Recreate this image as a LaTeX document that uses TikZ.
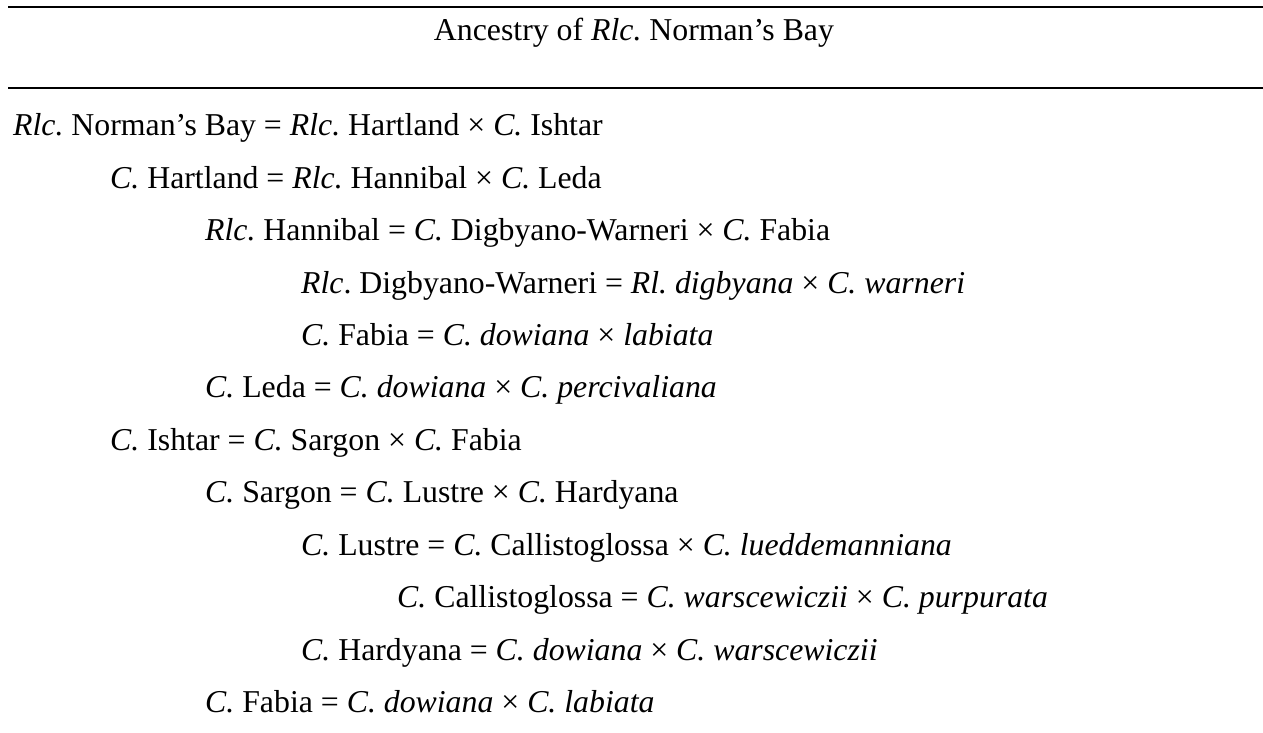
\documentclass[tikz,border=0pt]{standalone}
\usepackage{fontspec}
\setmainfont{Liberation Serif}
\frenchspacing
\begin{document}
\begin{tikzpicture}[x=1pt,y=-1pt,
  txt/.style={inner sep=0pt, anchor=base west, font=\fontsize{31.8}{36}\selectfont},
  ttl/.style={inner sep=0pt, anchor=base, font=\fontsize{31.8}{36}\selectfont},
  rulestyle/.style={line width=2pt}]
\useasboundingbox (0,0) rectangle (1263,733);
\coordinate (r1a) at (8,7.5);  \coordinate (r1b) at (1263,7.5);
\coordinate (r2a) at (8,88);   \coordinate (r2b) at (1263,88);
\draw[rulestyle] (r1a) -- (r1b);
\draw[rulestyle] (r2a) -- (r2b);
\node[ttl] (title) at (634,40.7) {Ancestry of \textit{Rlc.} Norman’s Bay};
\def\rowy#1{135.7+52.45*#1}
\node[txt] (n1)  at (13,{\rowy{0}})  {\textit{Rlc.} Norman’s Bay = \textit{Rlc.} Hartland × \textit{C.} Ishtar};
\node[txt] (n2)  at (110,{\rowy{1}}) {\textit{C.} Hartland = \textit{Rlc.} Hannibal × \textit{C.} Leda};
\node[txt] (n3)  at (205,{\rowy{2}}) {\textit{Rlc.} Hannibal = \textit{C.} Digbyano-Warneri × \textit{C.} Fabia};
\node[txt] (n4)  at (301,{\rowy{3}}) {\textit{Rlc}. Digbyano-Warneri = \textit{Rl. digbyana} × \textit{C. warneri}};
\node[txt] (n5)  at (301,{\rowy{4}}) {\textit{C.} Fabia = \textit{C. dowiana} × \textit{labiata}};
\node[txt] (n6)  at (205,{\rowy{5}}) {\textit{C.} Leda = \textit{C. dowiana} × \textit{C. percivaliana}};
\node[txt] (n7)  at (110,{\rowy{6}}) {\textit{C.} Ishtar = \textit{C.} Sargon × \textit{C.} Fabia};
\node[txt] (n8)  at (205,{\rowy{7}}) {\textit{C.} Sargon = \textit{C.} Lustre × \textit{C.} Hardyana};
\node[txt] (n9)  at (301,{\rowy{8}}) {\textit{C.} Lustre = \textit{C.} Callistoglossa × \textit{C. lueddemanniana}};
\node[txt] (n10) at (397,{\rowy{9}}) {\textit{C.} Callistoglossa = \textit{C. warscewiczii} × \textit{C. purpurata}};
\node[txt] (n11) at (301,{\rowy{10}}) {\textit{C.} Hardyana = \textit{C. dowiana} × \textit{C. warscewiczii}};
\node[txt] (n12) at (205,{\rowy{11}}) {\textit{C.} Fabia = \textit{C. dowiana} × \textit{C. labiata}};
\end{tikzpicture}
\end{document}
